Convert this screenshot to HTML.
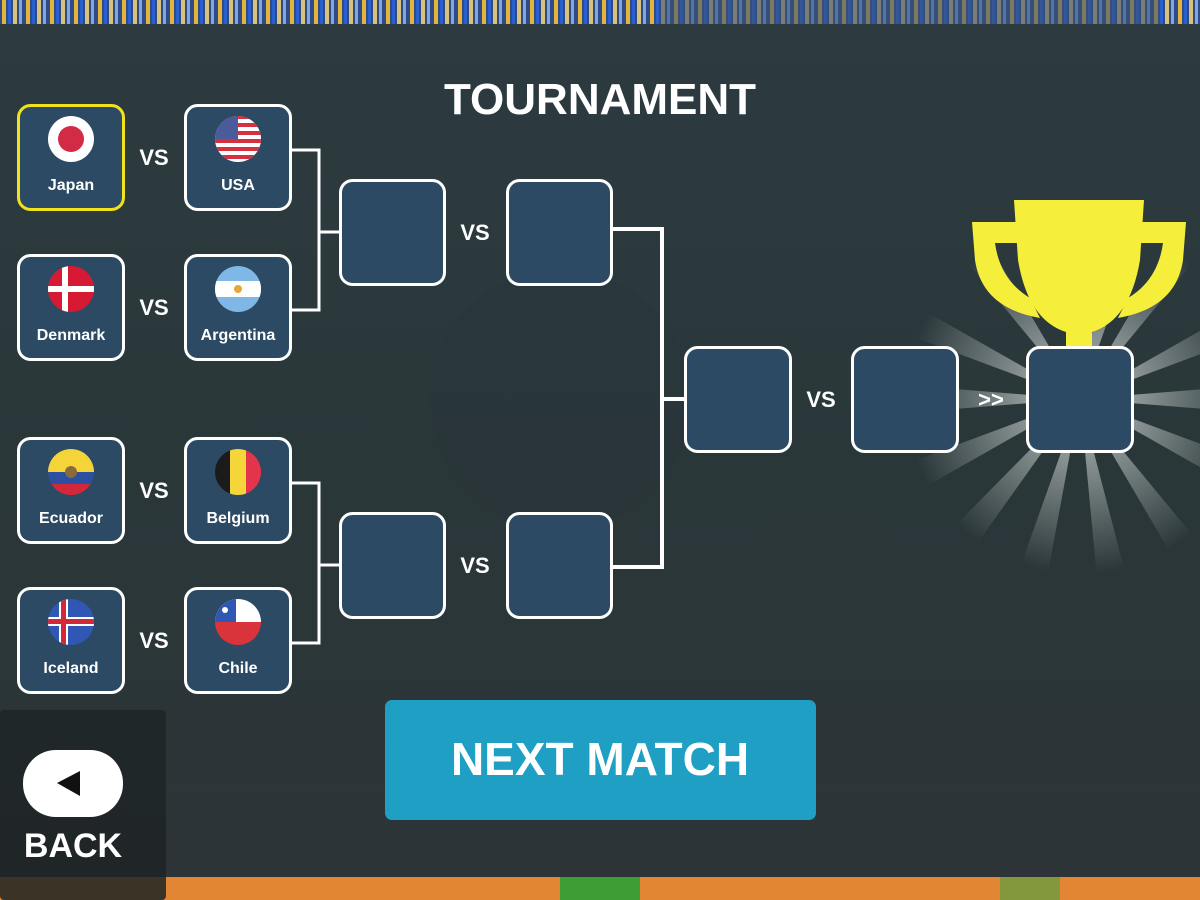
<!DOCTYPE html>
<html><head><meta charset="utf-8"><style>
html,body{margin:0;padding:0;width:1200px;height:900px;overflow:hidden;background:#2b383c}
svg{display:block}
text{font-family:"Liberation Sans","DejaVu Sans",sans-serif;font-weight:bold;fill:#fff}
</style></head><body>
<svg width="1200" height="900" viewBox="0 0 1200 900" xmlns="http://www.w3.org/2000/svg">
<defs>
<linearGradient id="bg" x1="0" y1="0" x2="0" y2="1">
<stop offset="0" stop-color="#2d3b41"/><stop offset="0.5" stop-color="#2a3739"/><stop offset="1" stop-color="#2c3437"/>
</linearGradient>
<pattern id="crowd" width="24" height="24" patternUnits="userSpaceOnUse">
<rect width="24" height="24" fill="#2f4a86"/>
<rect x="2" width="4" height="24" fill="#e0b53a"/>
<rect x="8" width="3" height="24" fill="#2a5fd0"/>
<rect x="13" width="4" height="24" fill="#d7c27a"/>
<rect x="19" width="3" height="24" fill="#7fa7e0"/>
</pattern>
<radialGradient id="ray" gradientUnits="userSpaceOnUse" cx="0" cy="0" r="175">
<stop offset="0.3" stop-color="#d5dbdb" stop-opacity="0.6"/><stop offset="1" stop-color="#d5dbdb" stop-opacity="0"/>
</radialGradient>
</defs>
<rect width="1200" height="900" fill="url(#bg)"/>
<circle cx="560" cy="400" r="130" fill="#27343a" opacity="0.5"/>
<rect y="0" width="1200" height="24" fill="url(#crowd)"/>
<rect x="660" y="0" width="500" height="24" fill="#3b5275" opacity="0.6"/>
<rect y="877" width="1200" height="23" fill="#e38633"/>
<rect x="560" y="877" width="80" height="23" fill="#3e9e35"/>
<rect x="1000" y="877" width="60" height="23" fill="#5aa040" opacity="0.7"/>

<!-- rays -->
<g transform="translate(1080,399)">
<polygon fill="url(#ray)" points="0,0 175,-14 175,14" transform="rotate(0)"/>
<polygon fill="url(#ray)" points="0,0 175,-14 175,14" transform="rotate(25)"/>
<polygon fill="url(#ray)" points="0,0 175,-14 175,14" transform="rotate(-25)"/>
<polygon fill="url(#ray)" points="0,0 175,-14 175,14" transform="rotate(55)"/>
<polygon fill="url(#ray)" points="0,0 175,-14 175,14" transform="rotate(-55)"/>
<polygon fill="url(#ray)" points="0,0 175,-14 175,14" transform="rotate(80)"/>
<polygon fill="url(#ray)" points="0,0 175,-14 175,14" transform="rotate(105)"/>
<polygon fill="url(#ray)" points="0,0 175,-14 175,14" transform="rotate(130)"/>
<polygon fill="url(#ray)" points="0,0 175,-14 175,14" transform="rotate(155)"/>
<polygon fill="url(#ray)" points="0,0 175,-14 175,14" transform="rotate(180)"/>
<polygon fill="url(#ray)" points="0,0 175,-14 175,14" transform="rotate(205)"/>
<polygon fill="url(#ray)" points="0,0 175,-14 175,14" transform="rotate(235)"/>
<polygon fill="url(#ray)" points="0,0 175,-14 175,14" transform="rotate(-75)"/>
</g>

<!-- trophy -->
<g fill="#f5ef3c">
<path d="M1014,200 L1144,200 L1140,260 Q1130,320 1092,332 L1092,350 L1066,350 L1066,332 Q1028,320 1018,260 Z"/>
<path d="M972,222 L1016,222 L1018,243 L995,243 Q1000,280 1030,298 L1040,318 Q982,308 975,260 Z"/>
<path d="M1186,222 L1142,222 L1140,243 L1163,243 Q1158,280 1128,298 L1118,318 Q1176,308 1183,260 Z"/>
</g>

<text x="600" y="114" font-size="44" text-anchor="middle">TOURNAMENT</text>

<!-- connectors -->
<g fill="none" stroke="#fff" stroke-width="3">
<polyline points="291,150 319,150 319,310 291,310"/>
<line x1="319" y1="232" x2="339" y2="232"/>
<polyline points="291,483 319,483 319,643 291,643"/>
<line x1="319" y1="565" x2="339" y2="565"/>
<polyline points="612,229 662,229 662,567 612,567" stroke-width="4"/>
<line x1="662" y1="399" x2="684" y2="399" stroke-width="4"/>
</g>

<g fill="#2c4a63" stroke="#fff" stroke-width="3">
<rect x="18.5" y="105.5" width="105" height="104" rx="12" stroke="#f0e21c"/>
<rect x="185.5" y="105.5" width="105" height="104" rx="12"/>
<rect x="18.5" y="255.5" width="105" height="104" rx="12"/>
<rect x="185.5" y="255.5" width="105" height="104" rx="12"/>
<rect x="18.5" y="438.5" width="105" height="104" rx="12"/>
<rect x="185.5" y="438.5" width="105" height="104" rx="12"/>
<rect x="18.5" y="588.5" width="105" height="104" rx="12"/>
<rect x="185.5" y="588.5" width="105" height="104" rx="12"/>
<rect x="340.5" y="180.5" width="104" height="104" rx="12"/>
<rect x="507.5" y="180.5" width="104" height="104" rx="12"/>
<rect x="340.5" y="513.5" width="104" height="104" rx="12"/>
<rect x="507.5" y="513.5" width="104" height="104" rx="12"/>
<rect x="685.5" y="347.5" width="105" height="104" rx="12"/>
<rect x="852.5" y="347.5" width="105" height="104" rx="12"/>
<rect x="1027.5" y="347.5" width="105" height="104" rx="12"/>
</g>

<!-- flags -->
<defs>
<clipPath id="c2"><circle cx="238" cy="139" r="23"/></clipPath>
<clipPath id="c3"><circle cx="71" cy="289" r="23"/></clipPath>
<clipPath id="c4"><circle cx="238" cy="289" r="23"/></clipPath>
<clipPath id="c5"><circle cx="71" cy="472" r="23"/></clipPath>
<clipPath id="c6"><circle cx="238" cy="472" r="23"/></clipPath>
<clipPath id="c7"><circle cx="71" cy="622" r="23"/></clipPath>
<clipPath id="c8"><circle cx="238" cy="622" r="23"/></clipPath>
</defs>
<circle cx="71" cy="139" r="23" fill="#fff"/><circle cx="71" cy="139" r="13" fill="#d32a45"/>
<g clip-path="url(#c2)"><rect x="214" y="115" width="48" height="48" fill="#fff"/>
<g fill="#d6303f"><rect x="214" y="115" width="48" height="4"/><rect x="214" y="123" width="48" height="4"/><rect x="214" y="131" width="48" height="4"/><rect x="214" y="139" width="48" height="4"/><rect x="214" y="147" width="48" height="4"/><rect x="214" y="155" width="48" height="4"/></g>
<rect x="214" y="115" width="24" height="24" fill="#4a5b9a"/></g>
<g clip-path="url(#c3)"><rect x="47" y="265" width="48" height="48" fill="#d71a33"/><rect x="62" y="265" width="6" height="48" fill="#fff"/><rect x="47" y="286" width="48" height="6" fill="#fff"/></g>
<g clip-path="url(#c4)"><rect x="214" y="265" width="48" height="48" fill="#7fb7e6"/><rect x="214" y="281" width="48" height="16" fill="#fff"/><circle cx="238" cy="289" r="4" fill="#e8a637"/></g>
<g clip-path="url(#c5)"><rect x="47" y="448" width="48" height="24" fill="#f5d43a"/><rect x="47" y="472" width="48" height="12" fill="#2d4fa0"/><rect x="47" y="484" width="48" height="12" fill="#d3273a"/><circle cx="71" cy="472" r="6" fill="#8a6a3a"/></g>
<g clip-path="url(#c6)"><rect x="214" y="448" width="16" height="48" fill="#1b1b1b"/><rect x="230" y="448" width="16" height="48" fill="#f4d63a"/><rect x="246" y="448" width="16" height="48" fill="#e2344a"/></g>
<g clip-path="url(#c7)"><rect x="47" y="598" width="48" height="48" fill="#2f57b3"/><rect x="59" y="598" width="9" height="48" fill="#fff"/><rect x="47" y="617" width="48" height="9" fill="#fff"/><rect x="61" y="598" width="5" height="48" fill="#d3273a"/><rect x="47" y="619" width="48" height="5" fill="#d3273a"/></g>
<g clip-path="url(#c8)"><rect x="214" y="598" width="48" height="24" fill="#fff"/><rect x="214" y="598" width="22" height="24" fill="#2f57b3"/><rect x="214" y="622" width="48" height="24" fill="#d9333c"/><circle cx="225" cy="610" r="3" fill="#fff"/></g>

<g font-size="16" text-anchor="middle" style="font-weight:600">
<text x="71" y="190">Japan</text><text x="238" y="190">USA</text>
<text x="71" y="340">Denmark</text><text x="238" y="340">Argentina</text>
<text x="71" y="523">Ecuador</text><text x="238" y="523">Belgium</text>
<text x="71" y="673">Iceland</text><text x="238" y="673">Chile</text>
</g>
<g font-size="22" text-anchor="middle">
<text x="154" y="165">VS</text><text x="154" y="315">VS</text>
<text x="154" y="498">VS</text><text x="154" y="648">VS</text>
<text x="475" y="240">VS</text><text x="475" y="573">VS</text>
<text x="821" y="407">VS</text><text x="991" y="407">&gt;&gt;</text>
</g>

<!-- next match -->
<rect x="385" y="700" width="431" height="120" rx="7" fill="#1f9fc4"/>
<text x="600" y="775" font-size="46" text-anchor="middle">NEXT MATCH</text>

<!-- back -->
<rect x="0" y="710" width="166" height="190" rx="4" fill="#1e2426" opacity="0.85"/>
<rect x="23" y="750" width="100" height="67" rx="33" fill="#fff"/>
<polygon points="57,783 80,771 80,796" fill="#111"/>
<text x="73" y="857" font-size="34" text-anchor="middle">BACK</text>
</svg>
</body></html>
